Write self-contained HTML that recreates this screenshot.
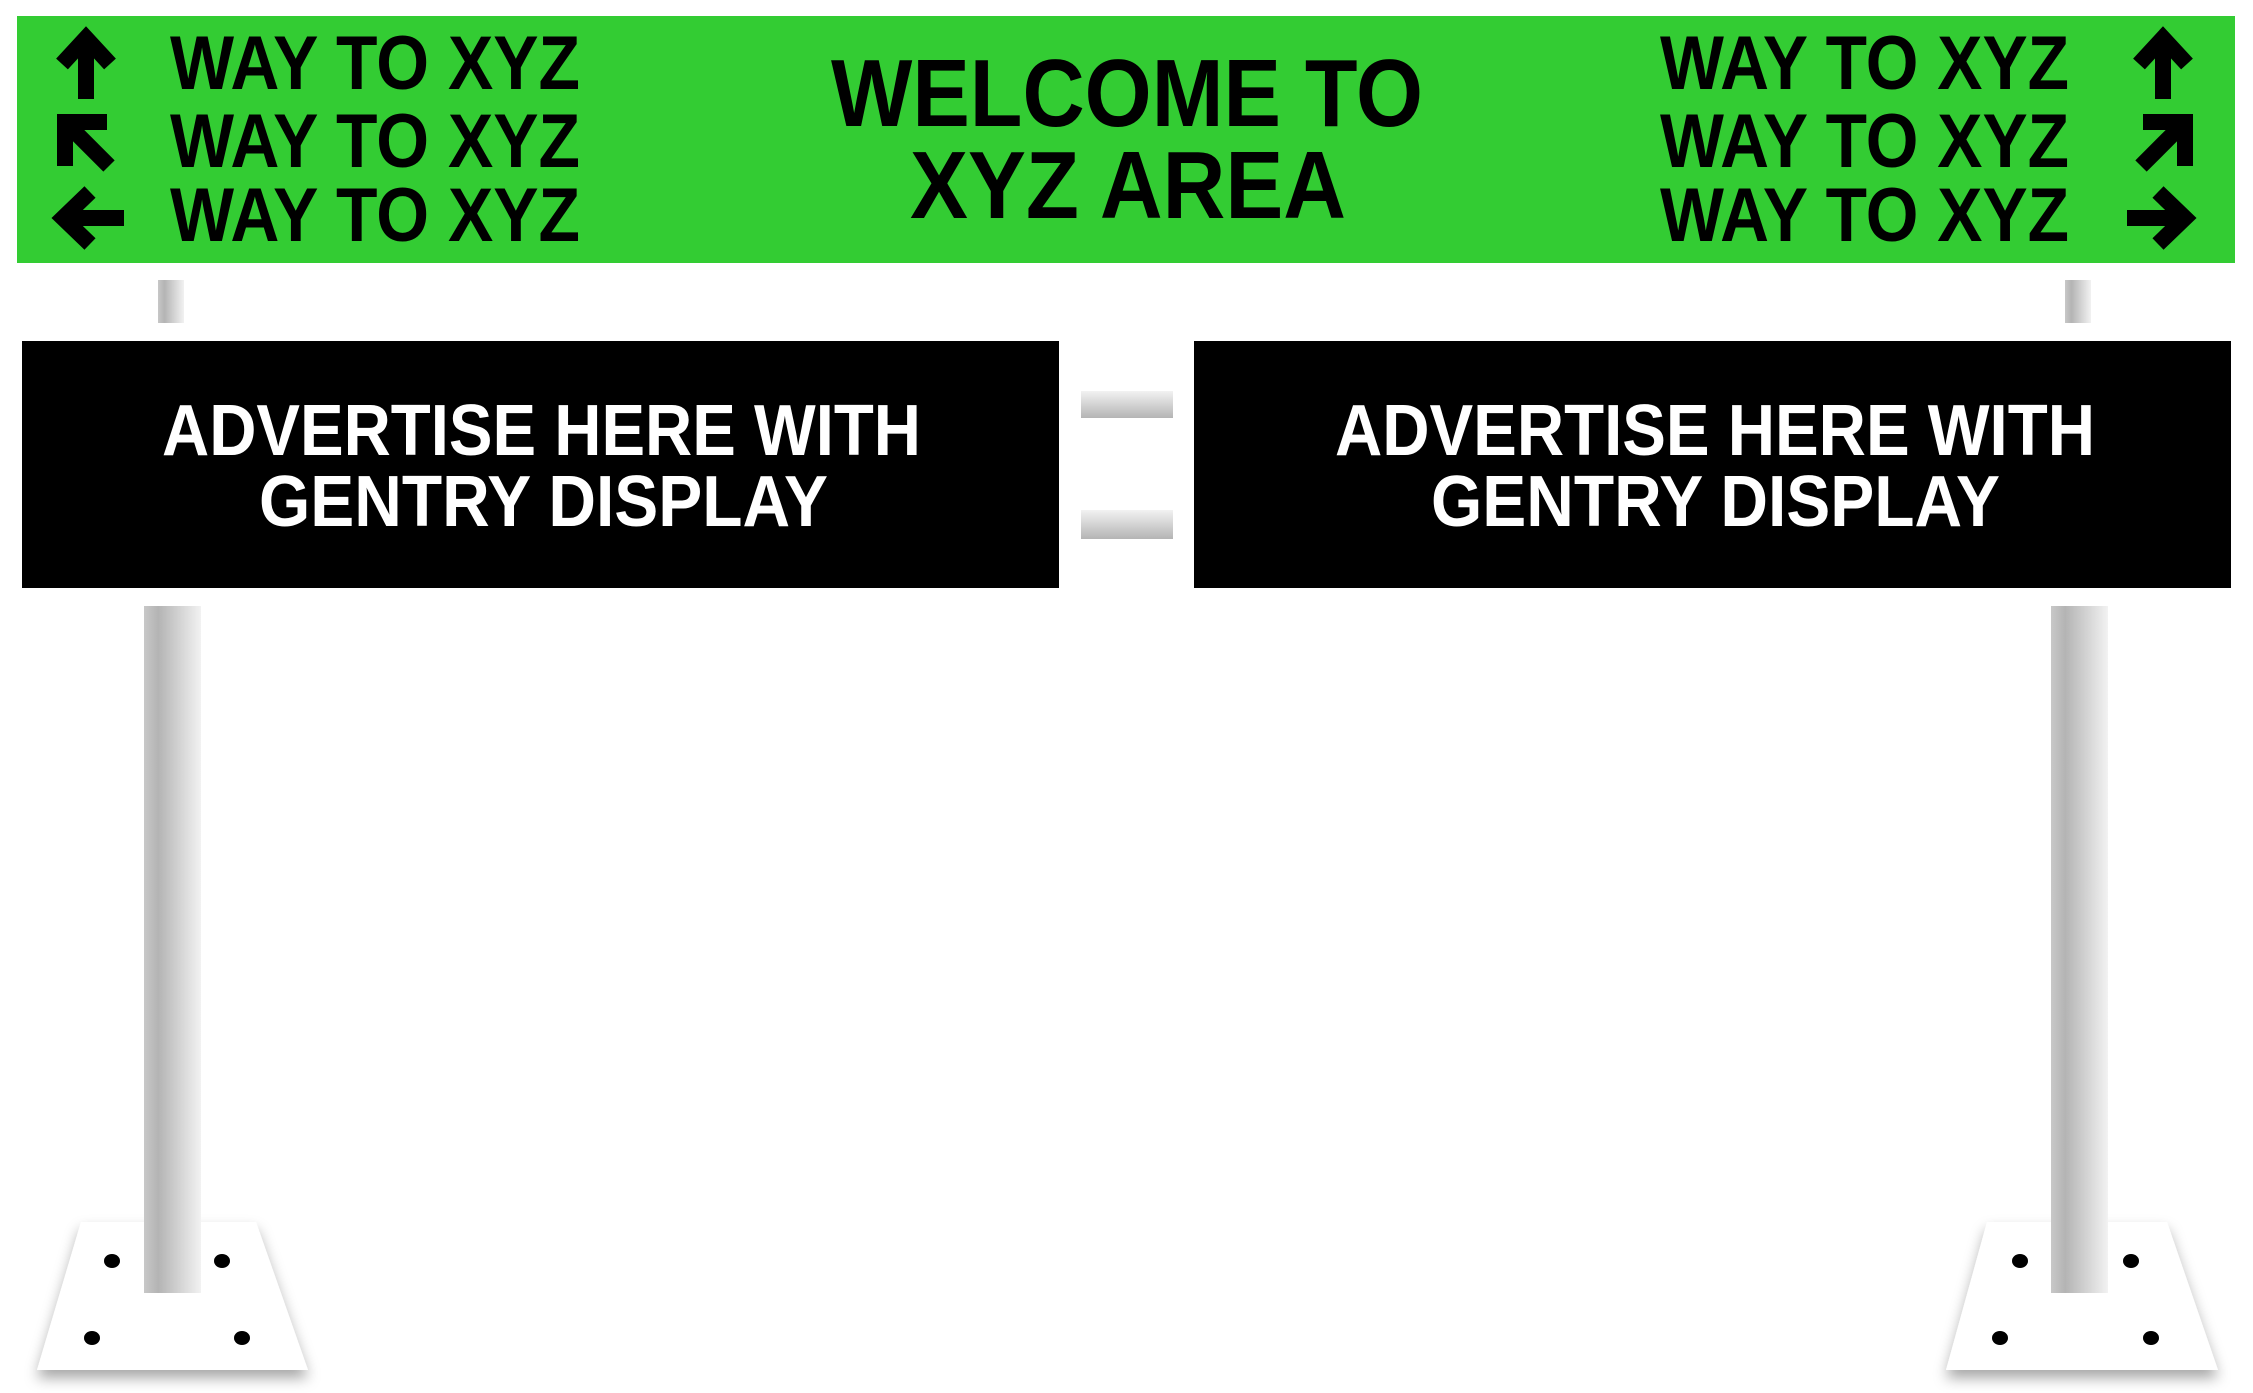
<!DOCTYPE html>
<html><head><meta charset="utf-8"><style>
html,body{margin:0;padding:0;background:#fff;width:2253px;height:1393px;overflow:hidden}
svg{display:block}
text{font-family:"Liberation Sans",sans-serif;font-weight:bold}
</style></head><body>
<svg width="2253" height="1393" viewBox="0 0 2253 1393" xmlns="http://www.w3.org/2000/svg">
<defs>
<linearGradient id="pole" x1="0" x2="1" y1="0" y2="0">
<stop offset="0" stop-color="#c8c8c8"/><stop offset="0.25" stop-color="#b4b4b4"/><stop offset="1" stop-color="#f2f2f2"/>
</linearGradient>
<linearGradient id="bar" x1="0" x2="0" y1="0" y2="1">
<stop offset="0" stop-color="#f2f2f2"/><stop offset="1" stop-color="#b4b4b4"/>
</linearGradient>
<filter id="sh" x="-20%" y="-20%" width="140%" height="150%">
<feDropShadow dx="0" dy="8" stdDeviation="7" flood-color="#000" flood-opacity="0.35"/>
</filter>
</defs>
<rect x="17" y="16" width="2218" height="247" fill="#33cc33"/>
<g stroke="#000" fill="none" stroke-width="16" stroke-linecap="butt" stroke-linejoin="miter">
<line x1="86" y1="99" x2="86" y2="40"/>
<polyline points="62,64 86,38 110,64"/>
<line x1="109" y1="166" x2="71" y2="128"/>
<polyline points="65,166 65,122 107,122"/>
<line x1="124" y1="218" x2="66" y2="218"/>
<polyline points="90,192 63,218 90,244"/>
<line x1="2163" y1="99" x2="2163" y2="40"/>
<polyline points="2139,64 2163,38 2187,64"/>
<line x1="2141" y1="166" x2="2179" y2="128"/>
<polyline points="2143,122 2185,122 2185,166"/>
<line x1="2127" y1="218" x2="2188" y2="218"/>
<polyline points="2158,192 2185,218 2158,244"/>
</g>
<g fill="#000" font-size="76">
<text x="170" y="89" textLength="410" lengthAdjust="spacingAndGlyphs">WAY TO XYZ</text>
<text x="170" y="167" textLength="410" lengthAdjust="spacingAndGlyphs">WAY TO XYZ</text>
<text x="170" y="241" textLength="410" lengthAdjust="spacingAndGlyphs">WAY TO XYZ</text>
<text x="1660" y="89" textLength="409" lengthAdjust="spacingAndGlyphs">WAY TO XYZ</text>
<text x="1660" y="167" textLength="409" lengthAdjust="spacingAndGlyphs">WAY TO XYZ</text>
<text x="1660" y="241" textLength="409" lengthAdjust="spacingAndGlyphs">WAY TO XYZ</text>
</g>
<g fill="#000" font-size="96">
<text x="831" y="126" textLength="592" lengthAdjust="spacingAndGlyphs">WELCOME TO</text>
<text x="910" y="218" textLength="436" lengthAdjust="spacingAndGlyphs">XYZ AREA</text>
</g>
<rect x="158" y="280" width="26" height="43" fill="url(#pole)"/>
<rect x="2065" y="280" width="26" height="43" fill="url(#pole)"/>
<rect x="1081" y="391" width="92" height="27" fill="url(#bar)"/>
<rect x="1081" y="510" width="92" height="29" fill="url(#bar)"/>
<rect x="22" y="341" width="1037" height="247" fill="#000"/>
<rect x="1194" y="341" width="1037" height="247" fill="#000"/>
<g fill="#fff" font-size="72">
<text x="162" y="455" textLength="759" lengthAdjust="spacingAndGlyphs">ADVERTISE HERE WITH</text>
<text x="259" y="526" textLength="569" lengthAdjust="spacingAndGlyphs">GENTRY DISPLAY</text>
<text x="1335" y="455" textLength="760" lengthAdjust="spacingAndGlyphs">ADVERTISE HERE WITH</text>
<text x="1431" y="526" textLength="569" lengthAdjust="spacingAndGlyphs">GENTRY DISPLAY</text>
</g>
<polygon points="81,1222 256,1222 308,1370 37,1370" fill="#fff" filter="url(#sh)"/>
<polygon points="1987,1222 2167,1222 2218,1370 1946,1370" fill="#fff" filter="url(#sh)"/>
<rect x="144" y="606" width="57" height="687" fill="url(#pole)"/>
<rect x="2051" y="606" width="57" height="687" fill="url(#pole)"/>
<g fill="#000">
<ellipse cx="112" cy="1261" rx="8" ry="7"/><ellipse cx="222" cy="1261" rx="8" ry="7"/>
<ellipse cx="92" cy="1338" rx="8" ry="7"/><ellipse cx="242" cy="1338" rx="8" ry="7"/>
<ellipse cx="2020" cy="1261" rx="8" ry="7"/><ellipse cx="2131" cy="1261" rx="8" ry="7"/>
<ellipse cx="2000" cy="1338" rx="8" ry="7"/><ellipse cx="2151" cy="1338" rx="8" ry="7"/>
</g>
</svg>
</body></html>
